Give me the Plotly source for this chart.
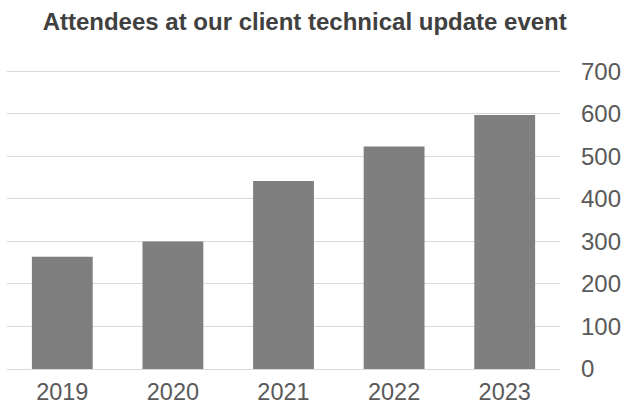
import plotly.graph_objects as go

years = ["2019", "2020", "2021", "2022", "2023"]
attendees = [264, 300, 442, 523, 597]
y_ticks = [0, 100, 200, 300, 400, 500, 600, 700]

fig = go.Figure(
    go.Bar(
        x=years,
        y=attendees,
        marker=dict(color="#7f7f7f", line=dict(width=0)),
    )
)

fig.update_layout(
    width=622,
    height=405,
    margin=dict(l=7, r=62, t=66.7, b=35.5),
    paper_bgcolor="white",
    plot_bgcolor="white",
    bargap=0.45,
    showlegend=False,
    title=dict(
        text="<b>Attendees at our client technical update event</b>",
        x=304.7 / 622,
        xanchor="center",
        y=1 - 21.5 / 405,
        yanchor="middle",
        font=dict(family="Liberation Sans, Arial, sans-serif", size=24, color="#404040"),
    ),
    font=dict(family="Liberation Sans, Arial, sans-serif", color="#595959"),
)

fig.update_xaxes(
    type="category",
    automargin=False,
    showgrid=False,
    showline=False,
    ticks="",
    tickfont=dict(size=23.5, color="#595959"),
    ticklabelstandoff=6,
)

fig.update_yaxes(
    side="right",
    automargin=False,
    range=[0, 710],
    tickvals=y_ticks,
    showgrid=True,
    gridcolor="#d9d9d9",
    gridwidth=1.3,
    zeroline=True,
    zerolinecolor="#d9d9d9",
    zerolinewidth=1.3,
    showline=False,
    ticks="",
    tickfont=dict(size=24, color="#595959"),
    ticklabelstandoff=20,
)

fig.write_html("out.html")
